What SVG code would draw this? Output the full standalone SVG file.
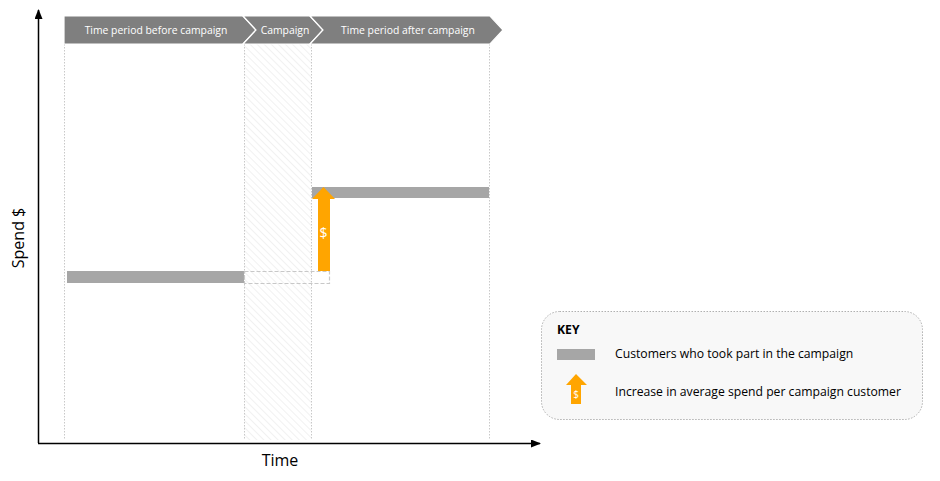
<svg xmlns="http://www.w3.org/2000/svg" width="940" height="481" viewBox="0 0 940 481">
<style>
.hdr{fill:#7f7f7f;stroke:#fff;stroke-width:1.2}
.ht{font-family:"Open Sans","Liberation Sans",sans-serif;font-size:10.4px;fill:#fff;text-anchor:middle}
.vl{stroke:#c8c8c8;stroke-width:1;stroke-dasharray:1.5 1.5;fill:none}
.bar{fill:#a6a6a6}
.ax{stroke:#000;stroke-width:1.5;fill:none}
.kt{font-family:"Open Sans","Liberation Sans",sans-serif;font-size:12.2px;fill:#000}
.lbl{font-family:"Open Sans","Liberation Sans",sans-serif;font-size:16px;fill:#000;text-anchor:middle}
.arr{fill:#ffa500}
.dol{font-family:"Open Sans","Liberation Sans",sans-serif;fill:#fff;text-anchor:middle}
</style>
<defs>
<pattern id="hatch" width="5" height="5" patternUnits="userSpaceOnUse" patternTransform="rotate(-45)">
<rect width="5" height="5" fill="#fff"/>
<line x1="0" y1="0" x2="0" y2="5" stroke="#ebebeb" stroke-width="1.4"/>
</pattern>
<marker id="ah" markerWidth="10" markerHeight="8" refX="9" refY="4" orient="auto" markerUnits="userSpaceOnUse">
<path d="M0,0 L10,4 L0,8 Z" fill="#000"/>
</marker>
</defs>

<g id="campaign-zone">
<rect x="244" y="44" width="67" height="396" fill="url(#hatch)"/>
</g>

<g id="guides">
<line class="vl" x1="64.5" y1="44" x2="64.5" y2="440"/>
<line class="vl" x1="244.5" y1="44" x2="244.5" y2="440"/>
<line class="vl" x1="311.5" y1="44" x2="311.5" y2="440"/>
<line class="vl" x1="489.5" y1="44" x2="489.5" y2="440"/>
</g>

<g id="header-before">
<path class="hdr" d="M64,16 H243 L256,30 L243,44 H64 Z"/>
<text class="ht" x="156" y="34">Time period before campaign</text>
</g>
<g id="header-campaign">
<path class="hdr" d="M243,16 H310 L323,30 L310,44 H243 L256,30 Z"/>
<text class="ht" x="285" y="34">Campaign</text>
</g>
<g id="header-after">
<path class="hdr" d="M310,16 H490 L503,30 L490,44 H310 L323,30 Z"/>
<text class="ht" x="408" y="34">Time period after campaign</text>
</g>

<g id="bar-before">
<rect class="bar" x="67" y="271" width="177" height="12"/>
</g>
<g id="bar-dashed">
<rect x="244.5" y="271.5" width="85" height="12" fill="none" stroke="#c8c8c8" stroke-width="1.2" stroke-dasharray="4 2"/>
</g>
<g id="bar-after">
<rect class="bar" x="312" y="187" width="177" height="11"/>
</g>

<g id="increase-arrow">
<path class="arr" d="M318,271 V199 H312 L323.5,187 L335,199 H330 V271 Z"/>
<text class="dol" x="323.5" y="238" font-size="14">$</text>
</g>

<g id="axes">
<path class="ax" d="M38.5,443 V10" marker-end="url(#ah)"/>
<path class="ax" d="M38,443.5 H540" marker-end="url(#ah)"/>
<text class="lbl" x="280" y="466">Time</text>
<text class="lbl" transform="translate(24,238) rotate(-90)">Spend $</text>
</g>

<g id="key">
<rect x="541.5" y="311.5" width="381" height="108" rx="18" fill="#f8f8f8" stroke="#b0b0b0" stroke-width="1" stroke-dasharray="1.5 1.5"/>
<text class="kt" x="557" y="334" font-weight="bold" font-size="13">KEY</text>
<rect class="bar" x="557" y="349" width="38" height="11"/>
<text class="kt" x="615" y="358">Customers who took part in the campaign</text>
<path class="arr" d="M571,404 V385 H566 L576,374 L587,385 H581 V404 Z"/>
<text class="dol" x="576" y="398" font-size="10">$</text>
<text class="kt" x="615" y="396">Increase in average spend per campaign customer</text>
</g>
</svg>
